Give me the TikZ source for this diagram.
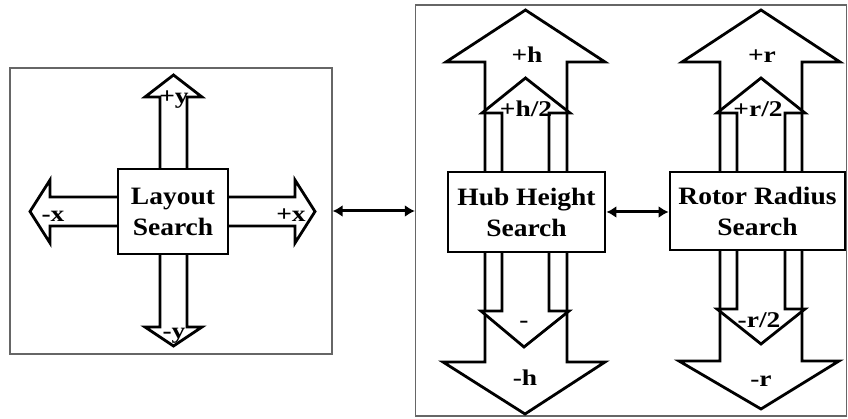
\documentclass[tikz,border=0pt]{standalone}
\usepackage{fontspec}
\usepackage{graphicx}
\setmainfont{Liberation Serif}
\newfontfamily\mainstretch[FakeStretch=1.1]{Liberation Serif}
\usetikzlibrary{arrows.meta}
\newcommand{\searchfont}{\mainstretch\fontsize{25}{31}\selectfont\bfseries}
\newcommand{\lblfont}{\fontsize{22.5}{26}\selectfont\bfseries}
\newcommand{\lb}[1]{\scalebox{1.22}[1]{#1}}
\tikzset{
  outerbox/.style={draw=black!60, line width=1.4pt, inner sep=0pt, fill=none},
  searchbox/.style={draw, line width=2.9pt, fill=white, align=center, font=\searchfont, inner sep=0pt},
  arrowshape/.style={draw, line width=2.8pt, fill=white, line join=miter},
  lbl/.style={font=\lblfont, inner sep=0pt, anchor=base},
  conn/.style={line width=3pt, {Latex[length=10pt,width=12pt]}-{Latex[length=10pt,width=12pt]}},
}
\begin{document}
\begin{tikzpicture}[x=1pt,y=-1pt]
\useasboundingbox (0,0) rectangle (848,419);
% outer boxes
\node[outerbox, minimum width=322pt, minimum height=286pt] (L) at (171,211) {};
\node[outerbox, minimum width=431pt, minimum height=411pt] (R) at (631,210.5) {};

% ---- Layout arrows
\draw[arrowshape] (160,180) -- (160,97) -- (145,97) -- (173.5,75) -- (202,97) -- (187,97) -- (187,180);
\draw[arrowshape] (160,240) -- (160,327) -- (145,327) -- (173.5,346) -- (202,327) -- (187,327) -- (187,240);
\draw[arrowshape] (130,197) -- (50,197) -- (50,180) -- (30,211.5) -- (50,243) -- (50,226) -- (130,226);
\draw[arrowshape] (215,197) -- (295,197) -- (295,180) -- (315,211.5) -- (295,243) -- (295,226) -- (215,226);
\node[searchbox, minimum width=110pt, minimum height=85pt] (layout) at (173,211.5) {Layout\\Search};

% ---- Hub arrows
\draw[arrowshape] (485,190) -- (485,62) -- (446,62) -- (525.5,10) -- (605,62) -- (567,62) -- (567,190);
\draw[arrowshape] (502,190) -- (502,113) -- (482,113) -- (525.5,78) -- (570,113) -- (549,113) -- (549,190);
\draw[arrowshape] (485,235) -- (485,362) -- (443,362) -- (525,414) -- (605,362) -- (567,362) -- (567,235);
\draw[arrowshape] (502,235) -- (502,311) -- (481,311) -- (524,347) -- (569,311) -- (549,311) -- (549,235);
\node[searchbox, minimum width=157pt, minimum height=80pt] (hub) at (526.5,212) {Hub Height\\Search};

% ---- Rotor arrows
\draw[arrowshape] (720,190) -- (720,62) -- (682,62) -- (761,10) -- (840,62) -- (802,62) -- (802,190);
\draw[arrowshape] (737,190) -- (737,113) -- (717,113) -- (761,78) -- (805,113) -- (785,113) -- (785,190);
\draw[arrowshape] (720,235) -- (720,361) -- (679,361) -- (761,409) -- (839,361) -- (802,361) -- (802,235);
\draw[arrowshape] (737,235) -- (737,309) -- (717,309) -- (761,344) -- (805,309) -- (785,309) -- (785,235);
\node[searchbox, minimum width=175pt, minimum height=78pt] (rotor) at (757.5,211) {Rotor Radius\\Search};

% ---- labels
\node[lbl] (ly1) at (174,104) {\lb{+y}};
\node[lbl] (ly2) at (174,338) {\lb{-y}};
\node[lbl] (lx1) at (53,222) {\lb{-x}};
\node[lbl] (lx2) at (291,222) {\lb{+x}};
\node[lbl] (lh1) at (527,63) {\lb{+h}};
\node[lbl] (lh2) at (526,117) {\lb{+h/2}};
\node[lbl] (lh3) at (524,327) {\lb{-}};
\node[lbl] (lh4) at (525,385) {\lb{-h}};
\node[lbl] (lr1) at (762,63) {\lb{+r}};
\node[lbl] (lr2) at (758,117) {\lb{+r/2}};
\node[lbl] (lr3) at (759,327) {\lb{-r/2}};
\node[lbl] (lr4) at (761,386) {\lb{-r}};

% ---- connectors
\draw[conn] (L.east) -- (L.east -| R.west);
\draw[conn] (hub.east) -- (hub.east -| rotor.west);
\end{tikzpicture}
\end{document}
